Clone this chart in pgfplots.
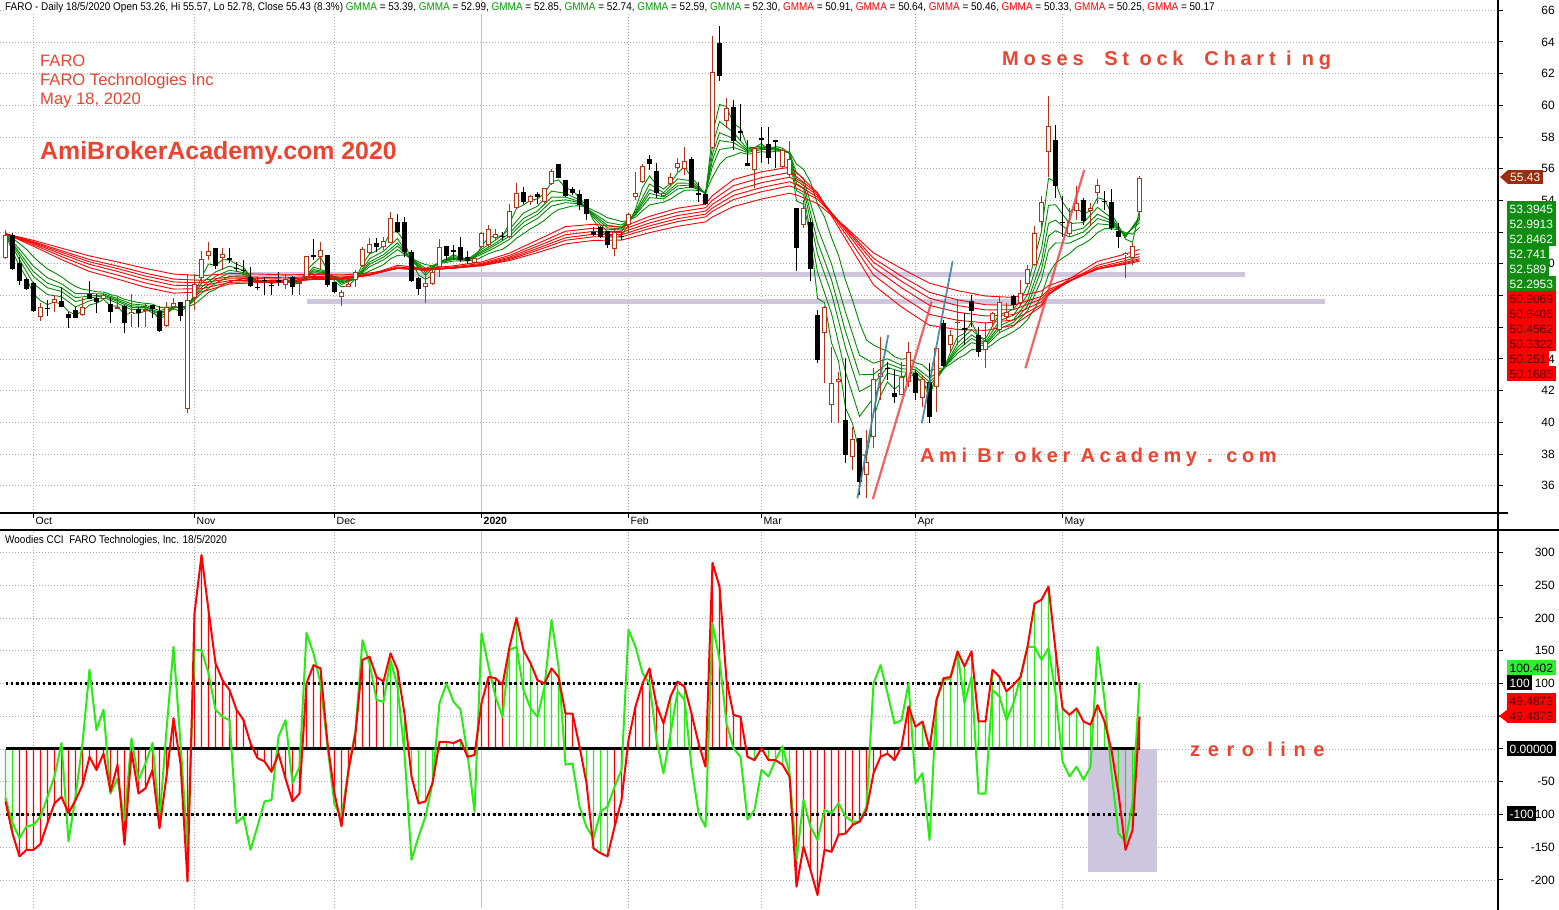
\documentclass[border=0pt]{standalone}
\usepackage{fontspec}
\setmainfont{Liberation Sans}
\newfontfamily\spacedA[LetterSpace=24]{Liberation Sans}
\newfontfamily\spacedB[LetterSpace=23]{Liberation Sans}
\newfontfamily\spacedC[LetterSpace=38]{Liberation Sans}
\usepackage{graphicx}
\usepackage{pgfplots}
\usepackage{pgfplotstable}
\pgfplotsset{compat=1.18}

\definecolor{gmmag}{RGB}{0,140,0}
\definecolor{gmmar}{RGB}{255,0,0}
\definecolor{upc}{RGB}{178,52,20}
\definecolor{lav}{RGB}{206,198,222}
\definecolor{txtred}{RGB}{235,68,48}
\definecolor{gridc}{RGB}{170,170,170}
\definecolor{ccig}{RGB}{40,235,20}
\definecolor{ccir}{RGB}{255,0,0}
\definecolor{boxbrown}{RGB}{155,45,15}
\definecolor{boxgreen}{RGB}{16,140,16}
\definecolor{boxlime}{RGB}{50,235,50}
\definecolor{darkred}{RGB}{80,0,0}
\definecolor{hdrgreen}{RGB}{0,160,0}
\definecolor{trendblue}{RGB}{60,130,165}
\definecolor{trendred}{RGB}{235,60,60}

\pgfplotstableread{
j O H L C
0 50.35 52.13 50.28 51.82
1 51.82 51.93 49.61 49.65
2 50.07 50.45 48.67 48.94
3 49.04 49.10 48.35 48.39
4 48.79 48.85 46.98 47.05
5 46.67 47.51 46.42 47.26
6 47.21 47.72 46.71 47.13
7 47.51 48.03 46.98 47.76
8 47.66 48.56 47.26 47.30
9 46.84 46.98 45.97 46.56
10 47.09 47.30 46.56 46.56
11 46.77 47.82 46.73 47.26
12 48.08 48.92 47.78 47.80
13 47.87 48.08 46.88 47.61
14 47.80 48.14 47.72 48.01
15 47.47 47.93 46.25 46.94
16 47.17 47.89 47.17 47.30
17 47.36 47.40 45.62 46.25
18 46.82 48.08 46.04 46.99
19 47.15 47.30 46.04 46.88
20 47.03 47.51 46.04 47.15
21 47.38 47.40 46.56 47.13
22 47.03 47.34 45.72 45.78
23 46.10 47.61 46.04 47.30
24 47.30 47.82 47.09 47.51
25 47.57 47.61 46.42 46.73
26 40.82 49.36 40.57 47.72
27 47.82 49.34 47.09 48.73
28 49.09 50.83 48.77 50.29
29 50.50 51.40 50.24 50.81
30 50.98 51.00 49.65 49.86
31 50.35 50.98 49.61 50.60
32 50.35 50.98 50.03 50.22
33 49.76 50.14 49.57 49.68
34 49.64 50.24 49.44 49.57
35 49.19 49.78 48.56 48.62
36 48.56 49.19 48.35 48.48
37 48.98 49.19 48.03 48.90
38 48.66 48.98 48.03 48.58
39 48.96 49.50 48.60 48.88
40 48.64 49.34 48.39 49.02
41 49.19 49.23 48.03 48.52
42 48.71 49.09 48.03 48.83
43 49.15 50.50 49.09 50.47
44 50.54 51.55 50.24 50.41
45 50.41 51.38 49.65 50.85
46 50.54 50.56 48.56 48.67
47 48.83 48.85 48.14 48.25
48 47.93 48.35 47.34 48.20
49 48.56 48.98 48.52 48.71
50 48.98 49.61 48.56 49.46
51 49.88 51.08 49.82 50.92
52 50.66 51.61 50.56 51.25
53 51.34 51.61 50.77 51.04
54 51.04 51.71 50.87 51.44
55 51.34 53.25 51.29 52.87
56 52.62 53.12 51.92 52.03
57 52.62 52.98 50.41 50.77
58 50.73 50.87 48.88 48.94
59 49.09 49.19 48.03 48.41
60 48.52 49.40 47.55 48.77
61 48.71 49.78 48.67 49.46
62 49.78 51.55 49.19 51.04
63 51.13 51.15 50.24 50.50
64 50.85 51.19 50.24 50.77
65 51.04 51.67 50.14 50.24
66 50.45 50.83 49.99 50.20
67 50.03 50.45 49.93 50.35
68 51.04 52.03 50.98 51.92
69 51.19 52.45 51.08 52.18
70 51.61 52.18 51.50 51.88
71 51.76 52.04 51.51 51.68
72 51.68 53.76 51.64 53.36
73 53.51 55.09 53.44 54.45
74 54.52 54.83 53.76 53.93
75 53.93 54.35 53.72 54.31
76 54.41 54.52 53.76 54.20
77 53.93 54.81 53.87 54.77
78 55.02 55.97 54.98 55.88
79 56.28 56.30 55.40 55.44
80 55.27 55.30 54.24 54.31
81 54.71 54.87 54.35 54.45
82 54.41 54.66 53.40 53.72
83 54.07 54.10 52.77 53.13
84 52.04 52.35 51.76 51.83
85 52.31 52.40 51.61 51.68
86 52.08 52.10 50.98 51.19
87 50.92 52.25 50.50 52.04
88 51.76 52.04 51.51 51.68
89 52.46 53.19 51.93 53.13
90 54.20 55.78 54.03 54.45
91 55.15 56.31 55.09 56.18
92 56.60 56.87 55.93 56.28
93 55.86 56.35 54.14 54.45
94 54.29 54.50 54.20 54.45
95 55.02 55.71 54.87 55.46
96 56.03 56.66 55.82 56.39
97 55.97 57.40 55.61 56.49
98 56.62 56.77 54.77 54.81
99 54.45 55.15 53.93 54.37
100 54.41 54.66 53.72 53.76
101 57.29 64.38 57.25 62.09
102 63.92 65.01 61.56 61.88
103 59.02 60.45 58.56 59.82
104 59.88 60.34 57.19 57.78
105 58.39 60.07 57.76 58.24
106 56.35 57.82 56.18 56.20
107 55.93 57.40 54.77 57.29
108 57.92 58.66 56.35 57.84
109 57.55 58.66 56.31 56.70
110 57.82 57.84 56.03 57.67
111 56.14 57.29 56.03 57.19
112 55.61 57.78 55.50 56.60
113 53.51 53.55 49.58 50.98
114 52.46 54.03 52.25 53.55
115 52.67 52.92 48.94 49.66
116 46.77 47.09 43.72 43.93
117 45.62 47.35 42.46 47.30
118 41.09 44.78 39.94 42.46
119 42.52 43.20 39.94 42.73
120 40.15 44.04 37.42 37.94
121 37.83 39.73 37.00 38.93
122 38.99 39.00 35.42 36.26
123 36.68 39.52 35.20 37.52
124 39.10 43.41 38.36 42.71
125 42.88 45.41 41.41 43.09
126 43.45 43.83 42.67 43.37
127 41.87 43.30 41.20 41.62
128 41.73 43.83 41.70 42.84
129 42.57 45.09 42.25 44.46
130 43.13 43.30 41.41 41.83
131 41.52 42.99 40.99 42.71
132 42.57 43.72 39.94 40.36
133 42.25 44.78 40.67 44.67
134 46.25 46.46 43.51 43.56
135 44.88 45.83 44.46 45.51
136 46.25 47.72 44.88 46.35
137 45.93 46.92 44.88 45.83
138 47.67 48.03 46.04 47.04
139 45.51 46.04 44.14 44.46
140 44.56 46.35 43.41 45.14
141 46.41 46.98 46.04 46.88
142 45.83 47.93 45.72 47.61
143 46.62 47.51 46.46 46.98
144 47.99 48.03 47.19 47.40
145 47.51 48.98 47.40 48.18
146 48.73 49.93 48.56 49.65
147 49.93 52.39 49.87 51.93
148 52.66 54.28 52.24 53.88
149 57.08 60.60 55.50 58.70
150 57.82 58.76 54.18 54.94
151 52.66 54.28 51.72 52.58
152 51.86 53.50 51.72 52.66
153 53.36 54.91 52.77 53.82
154 54.03 54.14 52.45 52.73
155 53.36 53.82 52.39 53.55
156 54.49 55.34 53.78 54.98
157 53.97 54.62 53.40 53.89
158 53.90 54.70 52.14 52.24
159 52.07 52.60 51.02 51.68
160 50.54 50.77 49.09 50.71
161 50.35 51.30 49.93 51.15
162 53.26 55.57 52.78 55.43
}\candles

\pgfplotstableread{
j g1 g6
0 51.90 51.90
1 50.78 51.62
2 49.86 51.28
3 49.12 50.92
4 48.09 50.44
5 47.68 50.04
6 47.43 49.68
7 47.60 49.44
8 47.45 49.18
9 47.00 48.85
10 46.78 48.57
11 47.02 48.40
12 47.41 48.33
13 47.51 48.24
14 47.76 48.22
15 47.35 48.06
16 47.33 47.96
17 46.79 47.76
18 46.89 47.66
19 46.88 47.56
20 47.02 47.51
21 47.07 47.46
22 46.43 47.25
23 46.86 47.26
24 47.19 47.29
25 46.96 47.22
26 47.34 47.28
27 48.03 47.46
28 49.16 47.81
29 49.99 48.19
30 49.92 48.40
31 50.26 48.68
32 50.24 48.87
33 49.98 48.98
34 49.79 49.06
35 49.20 49.00
36 48.86 48.94
37 48.90 48.94
38 48.76 48.90
39 48.84 48.90
40 48.93 48.92
41 48.72 48.87
42 48.78 48.87
43 49.62 49.07
44 50.02 49.24
45 50.43 49.44
46 49.55 49.34
47 48.90 49.20
48 48.55 49.08
49 48.63 49.03
50 49.05 49.08
51 49.98 49.31
52 50.62 49.55
53 50.83 49.74
54 51.13 49.95
55 52.00 50.32
56 52.02 50.53
57 51.39 50.56
58 50.17 50.36
59 49.29 50.12
60 49.03 49.95
61 49.25 49.89
62 50.14 50.03
63 50.32 50.09
64 50.57 50.18
65 50.40 50.19
66 50.30 50.19
67 50.33 50.21
68 51.12 50.42
69 51.65 50.64
70 51.77 50.80
71 51.74 50.92
72 52.55 51.22
73 53.50 51.62
74 53.72 51.91
75 54.01 52.21
76 54.10 52.46
77 54.44 52.75
78 55.16 53.14
79 55.30 53.43
80 54.80 53.54
81 54.63 53.65
82 54.17 53.66
83 53.65 53.59
84 52.74 53.37
85 52.21 53.16
86 51.70 52.91
87 51.87 52.80
88 51.80 52.67
89 52.46 52.73
90 53.46 52.95
91 54.82 53.35
92 55.55 53.72
93 55.00 53.81
94 54.72 53.89
95 55.09 54.09
96 55.74 54.38
97 56.12 54.64
98 55.46 54.66
99 54.94 54.63
100 54.35 54.52
101 58.22 55.47
102 60.05 56.27
103 59.93 56.71
104 58.86 56.84
105 58.55 57.02
106 57.37 56.92
107 57.33 56.97
108 57.60 57.08
109 57.15 57.03
110 57.41 57.11
111 57.30 57.12
112 56.95 57.06
113 53.97 56.30
114 53.76 55.96
115 51.71 55.17
116 47.82 53.77
117 47.56 52.96
118 45.01 51.65
119 43.87 50.53
120 40.91 48.96
121 39.92 47.71
122 38.09 46.28
123 37.81 45.19
124 40.26 44.88
125 41.68 44.66
126 42.55 44.50
127 42.09 44.14
128 42.47 43.98
129 43.47 44.04
130 42.65 43.76
131 42.68 43.63
132 41.52 43.22
133 43.10 43.40
134 43.33 43.42
135 44.42 43.68
136 45.39 44.01
137 45.61 44.24
138 46.33 44.59
139 45.40 44.57
140 45.27 44.64
141 46.08 44.92
142 46.85 45.26
143 46.92 45.48
144 47.16 45.72
145 47.67 46.03
146 48.66 46.48
147 50.30 47.16
148 52.09 48.00
149 55.40 49.34
150 55.17 50.04
151 53.90 50.36
152 53.28 50.65
153 53.55 51.05
154 53.14 51.26
155 53.35 51.55
156 54.17 51.98
157 54.05 52.22
158 53.15 52.22
159 52.41 52.15
160 51.56 51.97
161 51.36 51.87
162 53.39 52.30
}\gone

\pgfplotstableread{
j g2 g3 g4 g5
0 51.90 51.90 51.90 51.90
2 50.26 50.53 50.71 50.93
4 48.75 49.20 49.50 49.85
6 48.06 48.49 48.78 49.12
8 47.93 48.26 48.49 48.75
10 47.28 47.62 47.86 48.12
12 47.67 47.85 47.97 48.12
14 47.89 47.98 48.04 48.11
16 47.51 47.63 47.71 47.81
18 47.11 47.25 47.35 47.47
20 47.16 47.25 47.31 47.39
22 46.66 46.82 46.92 47.05
24 47.22 47.24 47.25 47.27
26 47.32 47.31 47.30 47.30
28 48.78 48.53 48.35 48.15
30 49.49 49.21 49.01 48.78
32 49.86 49.60 49.42 49.21
34 49.59 49.45 49.35 49.24
36 48.88 48.90 48.91 48.92
38 48.80 48.83 48.84 48.87
40 48.93 48.93 48.92 48.92
42 48.81 48.82 48.83 48.85
44 49.80 49.65 49.55 49.44
46 49.49 49.45 49.42 49.39
48 48.70 48.80 48.87 48.95
50 49.06 49.06 49.07 49.07
52 50.32 50.12 49.98 49.82
54 50.80 50.58 50.42 50.25
56 51.60 51.32 51.13 50.90
58 50.22 50.26 50.28 50.31
60 49.29 49.46 49.58 49.72
62 50.11 50.09 50.07 50.06
64 50.46 50.39 50.34 50.28
66 50.27 50.25 50.23 50.22
68 50.92 50.79 50.70 50.60
70 51.50 51.31 51.19 51.04
72 52.18 51.93 51.75 51.55
74 53.21 52.87 52.63 52.36
76 53.64 53.33 53.12 52.87
78 54.59 54.21 53.95 53.65
80 54.45 54.21 54.04 53.86
82 54.03 53.93 53.86 53.79
84 52.92 53.04 53.12 53.21
86 52.04 52.27 52.43 52.61
88 52.04 52.21 52.32 52.45
90 53.32 53.22 53.15 53.08
92 55.04 54.69 54.45 54.18
94 54.49 54.33 54.22 54.10
96 55.36 55.10 54.92 54.72
98 55.24 55.08 54.98 54.86
100 54.40 54.43 54.45 54.48
101 57.45 56.93 56.57 56.16
102 58.99 58.27 57.78 57.22
104 58.29 57.91 57.65 57.35
106 57.24 57.16 57.10 57.03
108 57.45 57.36 57.29 57.21
110 57.33 57.27 57.23 57.19
112 56.98 57.00 57.02 57.03
113 54.62 55.07 55.37 55.72
114 54.38 54.79 55.08 55.41
116 49.49 50.62 51.39 52.28
118 46.87 48.13 48.99 49.99
120 43.16 44.69 45.74 46.95
122 40.38 41.94 43.00 44.23
124 41.55 42.43 43.03 43.73
126 43.10 43.47 43.72 44.01
128 42.89 43.18 43.38 43.60
130 42.96 43.17 43.32 43.48
132 42.00 42.32 42.54 42.80
134 43.36 43.37 43.38 43.40
136 45.00 44.74 44.56 44.36
138 45.84 45.51 45.29 45.03
140 45.09 44.97 44.89 44.80
142 46.41 46.10 45.90 45.66
144 46.76 46.48 46.30 46.08
146 48.05 47.64 47.35 47.03
148 50.95 50.17 49.64 49.02
149 53.70 52.55 51.76 50.86
150 53.73 52.76 52.09 51.32
152 52.54 52.04 51.70 51.31
154 52.61 52.26 52.01 51.73
156 53.56 53.14 52.86 52.53
158 52.89 52.71 52.59 52.45
160 51.68 51.75 51.81 51.87
162 52.99 52.85 52.74 52.59
}\gmid

\pgfplotstableread{
j r30 r35 r40 r45 r50 r60
0 51.90 51.90 51.90 51.90 51.90 51.90
4 51.11 51.21 51.29 51.35 51.40 51.48
8 50.27 50.46 50.61 50.73 50.83 50.99
12 49.52 49.76 49.97 50.13 50.27 50.50
16 49.04 49.29 49.52 49.70 49.86 50.12
20 48.52 48.79 49.03 49.23 49.41 49.71
24 48.15 48.41 48.65 48.86 49.04 49.36
28 48.23 48.43 48.62 48.80 48.96 49.25
32 48.73 48.83 48.94 49.06 49.17 49.39
36 48.82 48.89 48.97 49.07 49.16 49.36
40 48.83 48.89 48.95 49.04 49.12 49.30
44 49.02 49.04 49.07 49.14 49.20 49.34
48 49.01 49.03 49.06 49.12 49.17 49.30
52 49.31 49.29 49.28 49.31 49.34 49.42
56 49.91 49.81 49.75 49.72 49.71 49.72
60 49.70 49.64 49.61 49.60 49.61 49.63
64 49.88 49.81 49.76 49.74 49.73 49.73
68 50.12 50.03 49.97 49.93 49.90 49.88
72 50.68 50.53 50.43 50.35 50.28 50.21
76 51.51 51.28 51.12 50.98 50.86 50.71
80 52.35 52.06 51.84 51.65 51.49 51.26
84 52.50 52.25 52.05 51.87 51.71 51.48
88 52.30 52.13 51.98 51.84 51.70 51.50
92 53.00 52.78 52.58 52.40 52.23 51.97
96 53.51 53.27 53.05 52.85 52.67 52.37
100 53.77 53.54 53.33 53.14 52.96 52.65
101 54.31 54.02 53.76 53.53 53.32 52.96
104 55.32 54.94 54.61 54.32 54.06 53.62
108 55.81 55.44 55.12 54.82 54.55 54.09
112 56.10 55.77 55.47 55.18 54.92 54.46
113 55.77 55.50 55.25 55.00 54.77 54.35
116 54.49 54.43 54.33 54.21 54.07 53.80
120 51.57 51.89 52.10 52.22 52.29 52.33
124 48.67 49.30 49.76 50.10 50.35 50.69
128 47.28 47.96 48.49 48.90 49.22 49.70
132 46.12 46.81 47.38 47.83 48.20 48.78
136 45.86 46.44 46.95 47.37 47.73 48.31
140 45.80 46.27 46.71 47.09 47.42 47.97
144 46.13 46.46 46.80 47.11 47.39 47.88
148 47.32 47.43 47.60 47.78 47.95 48.29
149 48.05 48.06 48.14 48.25 48.37 48.63
152 49.06 48.92 48.89 48.91 48.95 49.09
156 50.16 49.91 49.78 49.70 49.66 49.67
160 50.62 50.37 50.21 50.10 50.03 49.98
162 50.91 50.64 50.46 50.33 50.25 50.17
}\gred

\pgfplotstableread{
j r g c
0 -80 -75 1
1 -129 -113 1
2 -164 -136 0
3 -154 -118 0
4 -154 -116 0
5 -145 -103 0
6 -113 -73 0
7 -83 -42 0
8 -73 9 0
9 -98 -141 0
10 -78 -73 0
11 -55 9 0
12 -12 121 0
13 -32 29 0
14 -7 60 0
15 -65 -68 0
16 -24 -45 0
17 -146 -108 0
18 -4 16 0
19 -68 -47 0
20 -60 -22 0
21 -32 9 0
22 -121 -108 0
23 -42 29 0
24 47 156 0
25 -22 9 0
26 -202 -149 0
27 207 151 0
28 296 151 0
29 212 116 0
30 131 60 0
31 105 49 0
32 90 44 0
33 60 -113 0
34 44 -103 0
35 9 -154 0
36 -14 -118 0
37 -19 -80 0
38 -35 -78 0
39 -7 19 0
40 -45 44 0
41 -80 -52 0
42 -68 -27 0
43 100 177 0
44 128 146 0
45 123 100 0
46 9 4 0
47 -68 -85 0
48 -118 -103 0
49 -32 -32 0
50 24 29 0
51 136 166 0
52 141 131 0
53 110 75 0
54 103 72 0
55 146 136 1
56 121 95 1
57 54 -7 1
58 -42 -169 1
59 -83 -134 1
60 -80 -103 1
61 -52 -52 1
62 11 70 1
63 11 100 1
64 9 72 1
65 14 60 1
66 -12 -7 1
67 -9 -96 1
68 70 177 0
69 110 126 0
70 108 80 0
71 98 49 0
72 156 151 1
73 200 156 1
74 151 90 1
75 131 62 1
76 105 49 1
77 100 95 1
78 123 197 1
79 110 126 1
80 54 -24 0
81 54 -22 0
82 4 -88 0
83 -52 -119 1
84 -152 -136 1
85 -159 -96 1
86 -164 -88 1
87 -119 -58 0
88 -78 -32 0
89 14 182 0
90 65 156 0
91 100 116 0
92 123 100 0
93 67 14 0
94 39 -37 0
95 80 24 1
96 103 88 1
97 95 75 1
98 54 -27 0
99 9 -98 0
100 -27 -119 0
101 284 192 0
102 248 136 0
103 105 39 0
104 52 1 0
105 49 -12 0
106 -12 -108 1
107 -17 -93 1
108 1 -32 1
109 -17 -42 1
110 -17 -17 1
111 -24 4 1
112 -42 -37 1
113 -210 -169 0
114 -149 -78 0
115 -185 -119 0
116 -223 -139 0
117 -154 -93 0
118 -157 -98 0
119 -131 -83 0
120 -129 -103 0
121 -116 -111 0
122 -111 -111 0
123 -93 -88 0
124 -37 100 0
125 -12 128 0
126 -7 85 0
127 -17 39 0
128 4 44 0
129 65 100 0
130 34 -52 1
131 42 -37 1
132 1 -139 1
133 75 75 1
134 108 105 1
135 110 108 1
136 149 146 1
137 126 70 1
138 149 110 1
139 42 -68 1
140 42 -68 1
141 121 90 1
142 110 80 1
143 88 44 1
144 98 70 1
145 110 110 1
146 156 156 1
147 222 156 1
148 228 136 1
149 248 154 1
150 151 85 1
151 62 -19 1
152 52 -42 1
153 62 -27 1
154 42 -47 1
155 37 -27 1
156 67 156 1
157 42 75 1
158 -2 -37 1
159 -68 -129 1
160 -154 -141 1
161 -124 -83 1
162 49.49 100.40 0
}\cci

\pgfplotsset{
  cndl/.style={draw=none, mark=none, forget plot,
    error bars/y dir=plus, error bars/y explicit, error bars/error mark=none,
    error bars/error bar style={#1}},
}

\newcommand{\hdrfont}{\fontsize{11.2}{13}\selectfont}
\newcommand{\GG}[1]{\textcolor{hdrgreen}{GMMA} = #1}
\newcommand{\RR}[1]{\textcolor{red}{GMMA} = #1}
\newcommand{\valbox}[4]{\node[fill=#1, text=#2, anchor=west, inner xsep=2.5pt, inner ysep=0pt, minimum height=15pt, font=\fontsize{12}{12}\selectfont] at (1507,#3) {#4};}

\begin{document}
\begin{tikzpicture}[x=1pt,y=1pt]
\fill[white] (0,0) rectangle (1559,910);
\useasboundingbox (0,0) rectangle (1559,910);

% ---------------- price panel ----------------
\begin{axis}[
  at={(0pt,397pt)}, anchor=south west,
  width=1498pt, height=513pt, scale only axis,
  xmin=-0.786, xmax=213.21, ymin=34.28, ymax=66.65,
  axis line style={draw=none},
  xtick={4,27,47,68,89,108,130,151},
  xticklabels={Oct,Nov,Dec,\textbf{2020},Feb,Mar,Apr,May},
  xtick pos=bottom, ytick pos=right, yticklabel pos=right,
  ytick={36,38,...,66},
  tick align=outside, major tick length=5pt,
  tick style={black, line width=1pt},
  xmajorgrids, ymajorgrids,
  major grid style={gridc, dash pattern=on 1pt off 2pt, line width=0.8pt},
  yticklabel style={anchor=east, inner sep=0pt, xshift=52pt, font=\fontsize{12}{12}\selectfont},
  xticklabel style={anchor=base west, inner sep=0pt, xshift=2pt, yshift=-7pt, font=\fontsize{10.5}{12}\selectfont},
  /pgf/number format/assume math mode=true,
]
\draw[gray!45, line width=0.8pt] (axis cs:68,34.28) -- (axis cs:68,66.65);
% support bands
\addplot[fill=lav, draw=none] coordinates {(31.8,49.17) (177.1,49.17) (177.1,49.48) (31.8,49.48)} -- cycle;
\addplot[fill=lav, draw=none] coordinates {(43.1,47.47) (188.5,47.47) (188.5,47.79) (43.1,47.79)} -- cycle;
% GMMA short
\addplot[gmmag, line width=0.9pt] table[x=j,y=g1] {\gone};
\addplot[gmmag, line width=0.9pt] table[x=j,y=g2] {\gmid};
\addplot[gmmag, line width=0.9pt] table[x=j,y=g3] {\gmid};
\addplot[gmmag, line width=0.9pt] table[x=j,y=g4] {\gmid};
\addplot[gmmag, line width=0.9pt] table[x=j,y=g5] {\gmid};
\addplot[gmmag, line width=0.9pt] table[x=j,y=g6] {\gone};
% GMMA long
\addplot[gmmar, line width=0.9pt] table[x=j,y=r30] {\gred};
\addplot[gmmar, line width=0.9pt] table[x=j,y=r35] {\gred};
\addplot[gmmar, line width=0.9pt] table[x=j,y=r40] {\gred};
\addplot[gmmar, line width=0.9pt] table[x=j,y=r45] {\gred};
\addplot[gmmar, line width=0.9pt] table[x=j,y=r50] {\gred};
\addplot[gmmar, line width=0.9pt] table[x=j,y=r60] {\gred};
% candles: wicks
\addplot[restrict expr to domain={\thisrow{C}-\thisrow{O}}{0:100}, cndl={upc, line width=1pt}]
  table[x=j, y=L, y error plus expr={\thisrow{H}-\thisrow{L}}] {\candles};
\addplot[restrict expr to domain={\thisrow{C}-\thisrow{O}}{-100:-0.0001}, cndl={black, line width=1pt}]
  table[x=j, y=L, y error plus expr={\thisrow{H}-\thisrow{L}}] {\candles};
% candles: bodies
\addplot[restrict expr to domain={\thisrow{C}-\thisrow{O}}{-100:-0.0001}, cndl={black, line width=5pt}]
  table[x=j, y=C, y error plus expr={\thisrow{O}-\thisrow{C}}] {\candles};
\addplot[restrict expr to domain={\thisrow{C}-\thisrow{O}}{0:100}, cndl={upc, line width=5pt}]
  table[x=j, y=O, y error plus expr={\thisrow{C}-\thisrow{O}}] {\candles};
\addplot[restrict expr to domain={\thisrow{C}-\thisrow{O}}{0:100}, cndl={white, line width=3pt}]
  table[x=j, y expr={\thisrow{O}+0.065}, y error plus expr={max(\thisrow{C}-\thisrow{O}-0.13,0)}] {\candles};
% trend annotations
\addplot[trendblue, line width=1.8pt, opacity=0.9] coordinates {(121.7,35.21) (126.1,45.51)};
\addplot[trendblue, line width=1.8pt, opacity=0.9] coordinates {(130.9,39.94) (135.3,50.18)};
\addplot[trendred, line width=2.2pt, opacity=0.8] coordinates {(123.9,35.15) (132.3,47.62)};
\addplot[trendred, line width=2.2pt, opacity=0.8] coordinates {(145.7,43.41) (154.1,55.92)};
\end{axis}

% ---------------- CCI panel ----------------
\begin{axis}[
  at={(0pt,2pt)}, anchor=south west,
  width=1498pt, height=378pt, scale only axis,
  xmin=-0.786, xmax=213.21, ymin=-242.75, ymax=334.35,
  axis line style={draw=none},
  xtick={4,27,47,68,89,108,130,151}, xticklabels={},
  xtick style={draw=none},
  ytick={-200,-150,...,300}, ytick pos=right, yticklabel pos=right,
  tick align=outside, major tick length=5pt,
  ytick style={black, line width=1pt},
  xmajorgrids, ymajorgrids,
  major grid style={gridc, dash pattern=on 1pt off 2pt, line width=0.8pt},
  yticklabel style={anchor=east, inner sep=0pt, xshift=52pt, font=\fontsize{12}{12}\selectfont},
  /pgf/number format/assume math mode=true,
]
\draw[gray!45, line width=0.8pt] (axis cs:68,-242.75) -- (axis cs:68,334.35);
\addplot[fill=lav, draw=none] coordinates {(154.64,0) (164.5,0) (164.5,-187.8) (154.64,-187.8)} -- cycle;
\addplot[ybar, bar width=1.3pt, bar shift=0pt, fill=ccir, draw=none, restrict expr to domain={\thisrow{c}}{-0.5:0.5}] table[x=j,y=r] {\cci};
\addplot[ybar, bar width=1.3pt, bar shift=0pt, fill=ccig, draw=none, restrict expr to domain={\thisrow{c}}{0.5:1.5}] table[x=j,y=r] {\cci};
\addplot[black, line width=2.6pt, dash pattern=on 2.6pt off 2.7pt] coordinates {(0,100) (162,100)};
\addplot[black, line width=2.6pt, dash pattern=on 2.6pt off 2.7pt] coordinates {(0,-100) (162,-100)};
\addplot[black, line width=3pt] coordinates {(0,0) (162,0)};
\addplot[ccig, line width=2pt, line join=round] table[x=j,y=g] {\cci};
\addplot[ccir, line width=2pt, line join=round] table[x=j,y=r] {\cci};
\end{axis}

% frame lines
\draw[line width=1.5pt] (1498,0) -- (1498,910);
\draw[line width=1.5pt] (0,397) -- (1508,397);
\draw[line width=1.5pt] (0,380) -- (1559,380);

% headers
\node[anchor=base west, inner sep=1pt, fill=white] at (4,899) {\hdrfont\scalebox{0.89}[1]{FARO - Daily 18/5/2020 Open 53.26, Hi 55.57, Lo 52.78, Close 55.43 (8.3\%) \GG{53.39}, \GG{52.99}, \GG{52.85}, \GG{52.74}, \GG{52.59}, \GG{52.30}, \RR{50.91}, \RR{50.64}, \RR{50.46}, \RR{50.33}, \RR{50.25}, \RR{50.17}}};
\node[anchor=base west, inner sep=1pt, fill=white] at (4,366) {\hdrfont\scalebox{0.89}[1]{Woodies CCI\ \ FARO Technologies, Inc. 18/5/2020}};

% annotations
\node[anchor=base west, inner sep=0pt, text=txtred, font=\fontsize{16.6}{19}\selectfont] at (40,843) {FARO};
\node[anchor=base west, inner sep=0pt, text=txtred, font=\fontsize{16.6}{19}\selectfont] at (40,824) {FARO Technologies Inc};
\node[anchor=base west, inner sep=0pt, text=txtred, font=\fontsize{16.6}{19}\selectfont] at (40,805) {May 18, 2020};
\node[anchor=base west, inner sep=0pt, text=txtred, font=\bfseries\fontsize{24.9}{28}\selectfont] at (40,750) {AmiBrokerAcademy.com 2020};
\node[anchor=base west, inner sep=0pt, text=txtred] at (1002,844) {\spacedA\bfseries\fontsize{20}{24}\selectfont Moses\ \ St ock\ \ Chart i ng};
\node[anchor=base west, inner sep=0pt, text=txtred] at (920,447) {\spacedB\bfseries\fontsize{20}{24}\selectfont Ami Br oker Academy . com};
\node[anchor=base west, inner sep=0pt, text=txtred] at (1190,153) {\spacedC\bfseries\fontsize{20}{24}\selectfont zero line};

% value boxes (price panel)
\fill[boxbrown] (1500,733) -- (1508,740) -- (1508,726) -- cycle;
\node[fill=boxbrown, text=white, anchor=west, inner xsep=2.5pt, inner ysep=0pt, minimum height=14pt, font=\fontsize{12}{12}\selectfont] at (1507.5,733) {55.43};
\valbox{boxgreen}{white}{701}{53.3945}
\valbox{boxgreen}{white}{686}{52.9913}
\valbox{boxgreen}{white}{671}{52.8462}
\valbox{boxgreen}{white}{656}{52.741}
\valbox{boxgreen}{white}{641}{52.589}
\valbox{boxgreen}{white}{626}{52.2953}
\valbox{red}{darkred}{611}{50.9069}
\valbox{red}{darkred}{596}{50.6406}
\valbox{red}{darkred}{581}{50.4562}
\valbox{red}{darkred}{566}{50.3322}
\valbox{red}{darkred}{551}{50.251}
\valbox{red}{darkred}{536}{50.1685}
% value boxes (CCI panel)
\valbox{boxlime}{black}{242}{100.402}
\valbox{black}{white}{227}{100}
\fill[red] (1499,194) -- (1508,201) -- (1508,187) -- cycle;
\valbox{red}{darkred}{209}{49.4873}
\valbox{red}{darkred}{194}{49.4873}
\valbox{black}{white}{161}{0.00000}
\valbox{black}{white}{96}{-100}
\end{tikzpicture}
\end{document}
